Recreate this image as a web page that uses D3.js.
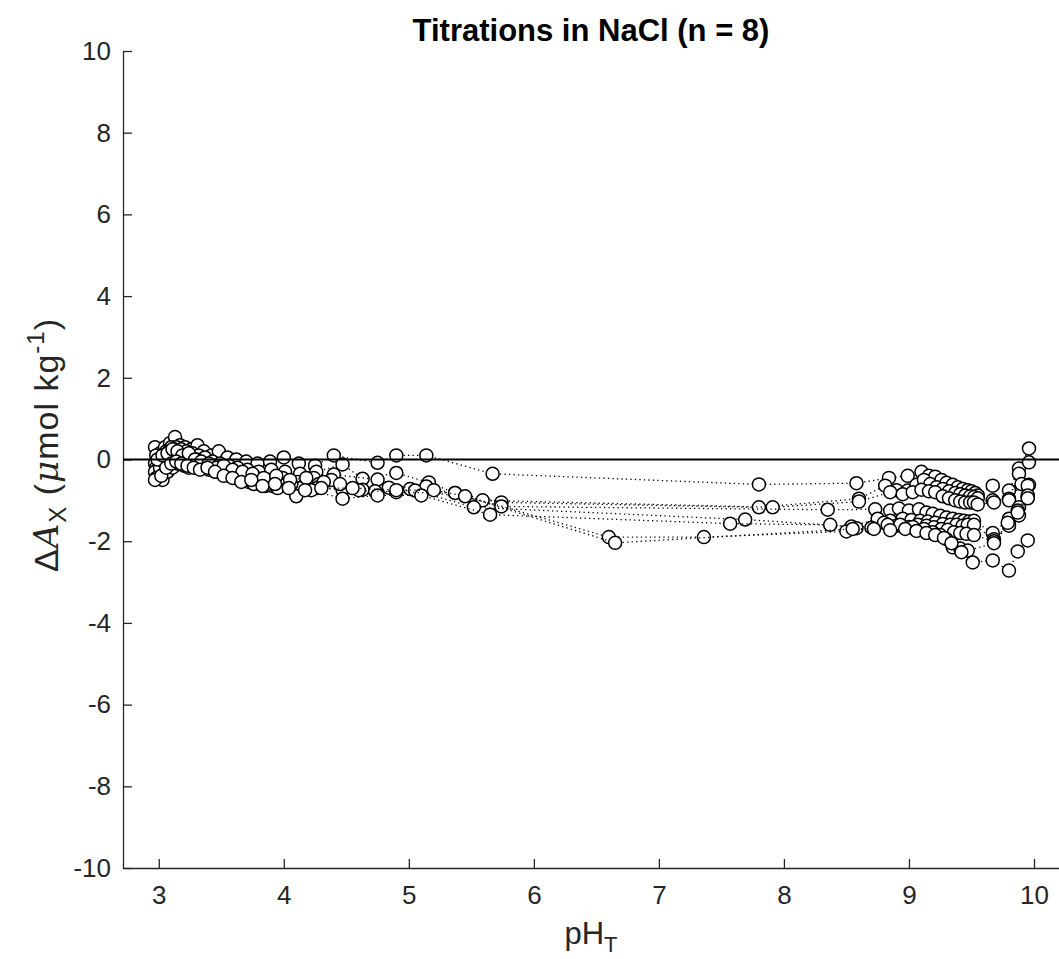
<!DOCTYPE html>
<html>
<head>
<meta charset="utf-8">
<script src="https://cdn.jsdelivr.net/npm/d3@7"></script>
<style>
  body { margin: 0; background: #fff; }
  svg { display: block; font-family: "Liberation Sans", Arial, Helvetica, sans-serif; }
</style>
</head>
<body>
<div id="chart"></div>
<script>
// Titrations in NaCl: residual alkalinity vs pH, one array of [pH, dA] per titration

const titration1 = [[2.97,0.3],[3.01,0.15],[3.05,0.3],[3.09,0.4],[3.13,0.55],[3.17,0.35],[3.21,0.3],[3.26,0.25],[3.31,0.35],[3.36,0.2],[3.42,0.1],[3.48,0.2],[3.55,0.05],[3.62,0.0],[3.70,-0.05],[3.79,-0.1],[3.89,-0.05],[4.00,0.05],[4.12,-0.1],[4.25,-0.15],[4.40,0.1],[4.75,-0.08],[4.90,0.1],[5.14,0.1],[5.67,-0.35],
  [7.80,-0.61],[8.58,-0.58],[8.84,-0.45],[8.99,-0.4],[9.10,-0.3],[9.16,-0.4],[9.21,-0.42],[9.26,-0.5],[9.30,-0.57],[9.35,-0.62],[9.39,-0.68],[9.43,-0.72],[9.47,-0.75],[9.50,-0.78],[9.53,-0.82],[9.55,-0.88],[9.67,-0.64],[9.80,-0.76],[9.88,-0.22],[9.96,0.27]];

const titration2 = [[2.98,0.1],[3.02,0.0],[3.06,0.2],[3.10,0.3],[3.14,0.3],[3.18,0.25],[3.22,0.2],[3.27,0.15],[3.32,0.1],[3.37,0.05],[3.43,-0.05],[3.49,-0.1],[3.56,-0.15],[3.63,-0.2],[3.71,-0.25],[3.80,-0.3],[3.90,-0.25],[4.01,-0.3],[4.13,-0.35],[4.26,-0.3],[4.47,-0.12],[4.63,-0.47],[4.90,-0.33],[5.16,-0.56],[5.37,-0.82],[5.74,-1.05],
  [7.80,-1.17],[8.60,-0.96],[8.81,-0.64],[8.90,-0.75],[8.99,-0.76],[9.06,-0.62],[9.12,-0.5],[9.17,-0.6],[9.22,-0.68],[9.27,-0.72],[9.32,-0.78],[9.37,-0.82],[9.41,-0.85],[9.45,-0.88],[9.49,-0.9],[9.52,-0.92],[9.55,-0.95],[9.67,-1.0],[9.80,-0.96],[9.88,-0.35],[9.96,-0.07]];

const titration3 = [[2.97,-0.1],[3.00,-0.05],[3.04,0.1],[3.08,0.2],[3.12,0.25],[3.16,0.15],[3.20,0.1],[3.25,0.05],[3.30,0.0],[3.35,-0.1],[3.41,-0.15],[3.47,-0.2],[3.54,-0.25],[3.61,-0.35],[3.69,-0.4],[3.78,-0.45],[3.88,-0.5],[3.99,-0.45],[4.11,-0.55],[4.24,-0.45],[4.40,-0.37],[4.75,-0.49],[5.01,-0.72],[5.59,-1.0],
  [7.91,-1.17],[8.60,-1.03],[8.85,-0.8],[8.95,-0.85],[9.03,-0.8],[9.10,-0.74],[9.16,-0.78],[9.21,-0.8],[9.27,-0.9],[9.32,-0.95],[9.37,-1.0],[9.41,-1.03],[9.45,-1.05],[9.49,-1.05],[9.52,-1.05],[9.55,-1.1],[9.68,-1.05],[9.80,-1.0],[9.90,-0.6],[9.96,-0.62]];

const titration4 = [[2.98,-0.2],[3.02,-0.1],[3.06,0.0],[3.10,0.1],[3.14,0.15],[3.19,0.1],[3.23,0.05],[3.28,-0.05],[3.33,-0.1],[3.39,-0.15],[3.45,-0.2],[3.51,-0.25],[3.58,-0.35],[3.65,-0.4],[3.74,-0.5],[3.83,-0.55],[3.93,-0.6],[4.04,-0.55],[4.16,-0.65],[4.28,-0.6],[4.38,-0.5],[4.63,-0.74],[4.84,-0.69],[5.14,-0.66],[5.74,-1.15],
  [8.35,-1.23],[8.73,-1.22],[8.85,-1.25],[8.92,-1.2],[9.00,-1.25],[9.08,-1.22],[9.14,-1.3],[9.19,-1.33],[9.25,-1.38],[9.30,-1.42],[9.35,-1.45],[9.40,-1.48],[9.44,-1.5],[9.48,-1.52],[9.52,-1.5],[9.67,-1.8],[9.80,-1.45],[9.88,-1.17],[9.95,-0.64]];

const titration5 = [[2.97,-0.3],[3.01,-0.2],[3.05,-0.1],[3.09,0.0],[3.13,0.05],[3.18,0.0],[3.22,-0.05],[3.27,-0.1],[3.32,-0.15],[3.38,-0.2],[3.44,-0.25],[3.50,-0.3],[3.57,-0.4],[3.64,-0.45],[3.72,-0.55],[3.81,-0.6],[3.91,-0.65],[4.02,-0.6],[4.14,-0.7],[4.27,-0.7],[4.47,-0.74],[4.73,-0.78],[5.05,-0.76],[5.52,-1.17],
  [7.69,-1.47],[8.54,-1.64],[8.75,-1.45],[8.85,-1.5],[8.95,-1.45],[9.02,-1.48],[9.09,-1.5],[9.15,-1.52],[9.21,-1.55],[9.27,-1.58],[9.33,-1.6],[9.38,-1.6],[9.43,-1.62],[9.47,-1.6],[9.52,-1.6],[9.68,-1.95],[9.80,-1.6],[9.88,-1.37],[9.95,-0.92]];

const titration6 = [[2.98,-0.45],[3.03,-0.5],[3.07,-0.3],[3.11,-0.2],[3.15,-0.1],[3.20,-0.15],[3.24,-0.2],[3.29,-0.15],[3.34,-0.2],[3.40,-0.25],[3.46,-0.3],[3.53,-0.35],[3.60,-0.45],[3.67,-0.5],[3.76,-0.6],[3.85,-0.65],[3.95,-0.7],[4.06,-0.6],[4.10,-0.9],[4.22,-0.75],[4.47,-0.96],[4.75,-0.88],[5.10,-0.88],[5.65,-1.35],
  [7.57,-1.57],[8.37,-1.6],[8.58,-1.68],[8.80,-1.55],[8.90,-1.62],[9.00,-1.65],[9.07,-1.6],[9.14,-1.62],[9.20,-1.66],[9.26,-1.7],[9.31,-1.72],[9.36,-1.78],[9.41,-1.8],[9.46,-1.82],[9.52,-1.85],[9.68,-2.0],[9.80,-1.62],[9.87,-1.25],[9.95,-0.88]];

const titration7 = [[2.99,0.0],[3.03,0.1],[3.07,0.15],[3.11,0.25],[3.15,0.2],[3.19,0.1],[3.24,0.15],[3.29,0.0],[3.34,-0.05],[3.40,-0.1],[3.46,-0.2],[3.52,-0.15],[3.59,-0.25],[3.67,-0.3],[3.75,-0.35],[3.84,-0.45],[3.94,-0.4],[4.05,-0.5],[4.18,-0.45],[4.32,-0.55],[4.45,-0.6],[4.60,-0.75],[4.90,-0.8],[5.37,-0.82],
  [6.60,-1.9],[7.36,-1.9],[8.50,-1.76],[8.70,-1.67],[8.83,-1.6],[8.93,-1.6],[9.03,-1.65],[9.12,-1.7],[9.19,-1.78],[9.25,-1.85],[9.30,-1.95],[9.35,-2.15],[9.41,-2.18],[9.47,-2.23],[9.68,-2.05],[9.79,-1.55],[9.87,-1.3],[9.95,-0.95]];

const titration8 = [[2.97,-0.5],[3.02,-0.4],[3.06,-0.2],[3.10,-0.1],[3.14,-0.05],[3.18,-0.1],[3.23,-0.15],[3.28,-0.2],[3.33,-0.25],[3.39,-0.2],[3.45,-0.3],[3.52,-0.4],[3.59,-0.45],[3.66,-0.55],[3.74,-0.5],[3.83,-0.65],[3.93,-0.6],[4.04,-0.7],[4.17,-0.75],[4.30,-0.7],[4.55,-0.7],[4.90,-0.75],[5.20,-0.75],[5.45,-0.9],
  [6.65,-2.04],[8.55,-1.7],[8.72,-1.7],[8.85,-1.73],[8.97,-1.7],[9.06,-1.75],[9.14,-1.8],[9.21,-1.85],[9.28,-1.92],[9.34,-2.05],[9.42,-2.27],[9.51,-2.52],[9.67,-2.47],[9.80,-2.72],[9.87,-2.25],[9.95,-1.98]];

const titrations = [titration1, titration2, titration3, titration4, titration5, titration6, titration7, titration8];

const xTicks = [3, 4, 5, 6, 7, 8, 9, 10];
const yTicks = [-10, -8, -6, -4, -2, 0, 2, 4, 6, 8, 10];

const width = 1059, height = 959;
const margin = {top: 51, right: 0, bottom: 91, left: 123};
const axisColor = "#262626";

const svg = d3.select("#chart")
  .append("svg")
  .attr("width", width)
  .attr("height", height);

const x = d3.scaleLinear([2.714, 10.2], [margin.left, width - margin.right]);
const y = d3.scaleLinear([-10, 10], [height - margin.bottom, margin.top]);

// axes, MATLAB style: ticks point inward, no box
const xAxis = svg.append("g")
  .attr("transform", `translate(0,${height - margin.bottom})`)
  .call(d3.axisBottom(x).tickValues(xTicks).tickFormat(d => String(d))
    .tickSizeInner(-9).tickSizeOuter(0).tickPadding(18));

const yAxis = svg.append("g")
  .attr("transform", `translate(${margin.left},0)`)
  .call(d3.axisLeft(y).tickValues(yTicks).tickFormat(d => String(d))
    .tickSizeInner(-9).tickSizeOuter(0).tickPadding(12));

[xAxis, yAxis].forEach(g => {
  g.select(".domain").attr("stroke", axisColor).attr("stroke-width", 1.3);
  g.selectAll(".tick line").attr("stroke", axisColor).attr("stroke-width", 1.3);
  g.selectAll(".tick text")
    .attr("fill", axisColor)
    .style("font-size", "26px")
    .style("font-family", "'Liberation Sans', Arial, sans-serif");
});

// titrations: dotted line plus open circles
const line = d3.line().x(d => x(d[0])).y(d => y(d[1]));

titrations.forEach(series => {
  const g = svg.append("g");
  g.append("path")
    .datum(series)
    .attr("fill", "none")
    .attr("stroke", "#000")
    .attr("stroke-width", 1.3)
    .attr("stroke-dasharray", "1.3,3.2")
    .attr("d", line);
  g.selectAll("circle")
    .data(series)
    .join("circle")
      .attr("cx", d => x(d[0]))
      .attr("cy", d => y(d[1]))
      .attr("r", 6.5)
      .attr("fill", "#fff")
      .attr("stroke", "#000")
      .attr("stroke-width", 1.5);
});

// zero line
svg.append("line")
  .attr("x1", x.range()[0]).attr("x2", x.range()[1])
  .attr("y1", y(0)).attr("y2", y(0))
  .attr("stroke", "#000")
  .attr("stroke-width", 2);

// title
svg.append("text")
  .attr("x", (margin.left + width - margin.right) / 2)
  .attr("y", 41)
  .attr("text-anchor", "middle")
  .attr("fill", "#000")
  .style("font-size", "31px")
  .style("font-weight", "bold")
  .text("Titrations in NaCl (n = 8)");

// x label
const xl = svg.append("text")
  .attr("x", (margin.left + width - margin.right) / 2)
  .attr("y", 944)
  .attr("text-anchor", "middle")
  .attr("fill", axisColor)
  .style("font-size", "31px");
xl.append("tspan").text("pH");
xl.append("tspan").attr("dy", 8).style("font-size", "22px").text("T");

// y label
const yl = svg.append("text")
  .attr("transform", `translate(58,445) rotate(-90)`)
  .attr("text-anchor", "middle")
  .attr("fill", axisColor)
  .style("font-size", "34px")
  .style("letter-spacing", "1px");
yl.append("tspan").text("\u0394");
yl.append("tspan").style("font-style", "italic").style("font-family", "'DejaVu Serif', serif").text("A");
yl.append("tspan").attr("dy", 8).style("font-size", "24px").text("X");
yl.append("tspan").attr("dy", -8).text(" (");
yl.append("tspan").style("font-style", "italic").style("font-family", "'DejaVu Serif', serif").text("\u03bc");
yl.append("tspan").text("mol kg");
yl.append("tspan").attr("dy", -14).style("font-size", "24px").text("-1");
yl.append("tspan").attr("dy", 14).text(")");
</script>
</body>
</html>
